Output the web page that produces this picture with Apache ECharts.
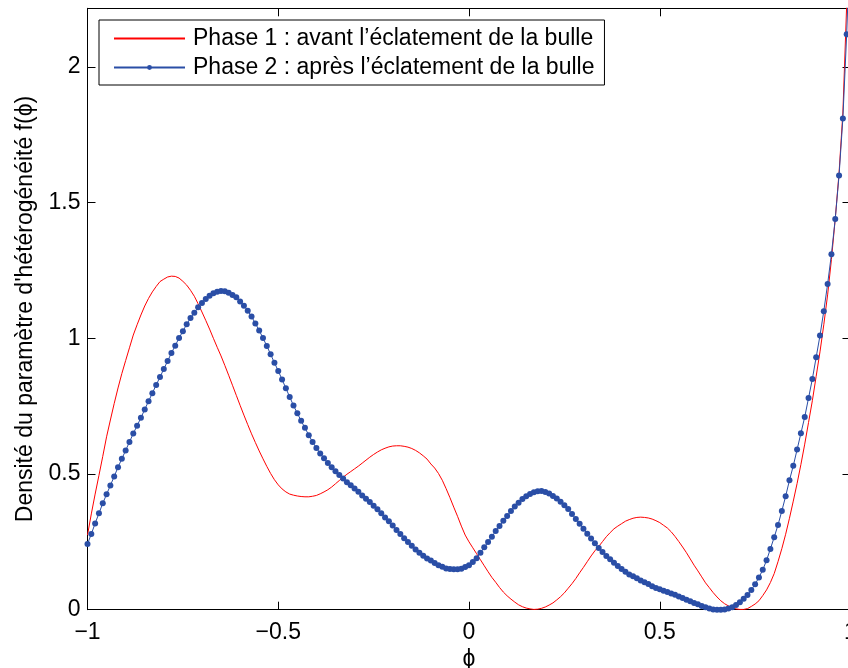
<!DOCTYPE html>
<html>
<head>
<meta charset="utf-8">
<script src="https://cdn.jsdelivr.net/npm/echarts@6/dist/echarts.min.js"></script>
<style>
  html, body { margin: 0; padding: 0; background: #ffffff; }
  #chart { width: 848px; height: 668px; }
</style>
</head>
<body>
<div id="chart"></div>
<script>
// Grid of the heterogeneity parameter phi: -1 to 1, step 0.01 (201 samples)
const PHI_MIN = -1;
const PHI_STEP = 0.01;

const seriesNames = [
  'Phase 1 : avant l\u2019éclatement de la bulle',
  'Phase 2 : après l\u2019éclatement de la bulle'
];
const xTickValues = [-1, -0.5, 0, 0.5, 1];
const yTickValues = [0, 0.5, 1, 1.5, 2];
const xTitle = '\u03D5';
const yTitle = 'Densité du paramètre d\'hétérogénéité f(\u03D5)';

// Phase 1 density, one row per 0.1 of phi
const phase1 = [
  0.275, 0.353, 0.426, 0.495, 0.565, 0.637, 0.699, 0.760, 0.817, 0.870,
  0.918, 0.965, 1.012, 1.050, 1.086, 1.119, 1.147, 1.171, 1.191, 1.209,
  1.218, 1.226, 1.229, 1.228, 1.222, 1.210, 1.196, 1.177, 1.155, 1.127,
  1.097, 1.066, 1.034, 1.000, 0.967, 0.935, 0.900, 0.864, 0.827, 0.790,
  0.753, 0.717, 0.682, 0.648, 0.616, 0.585, 0.556, 0.528, 0.502, 0.479,
  0.460, 0.445, 0.434, 0.426, 0.422, 0.419, 0.417, 0.416, 0.416, 0.418,
  0.421, 0.427, 0.434, 0.442, 0.452, 0.464, 0.476, 0.488, 0.499, 0.509,
  0.519, 0.529, 0.540, 0.551, 0.562, 0.572, 0.581, 0.589, 0.595, 0.600,
  0.603, 0.604, 0.604, 0.602, 0.599, 0.594, 0.587, 0.578, 0.567, 0.555,
  0.537, 0.522, 0.502, 0.477, 0.446, 0.413, 0.378, 0.344, 0.308, 0.275,
  0.250, 0.228, 0.206, 0.184, 0.162, 0.140, 0.119, 0.101, 0.082, 0.065,
  0.051, 0.039, 0.028, 0.018, 0.011, 0.006, 0.003, 0.001, 0.002, 0.005,
  0.010, 0.017, 0.025, 0.036, 0.048, 0.062, 0.079, 0.096, 0.115, 0.136,
  0.156, 0.177, 0.198, 0.217, 0.233, 0.251, 0.269, 0.284, 0.298, 0.308,
  0.317, 0.326, 0.332, 0.337, 0.340, 0.341, 0.340, 0.338, 0.334, 0.328,
  0.321, 0.311, 0.301, 0.287, 0.270, 0.251, 0.231, 0.210, 0.187, 0.164,
  0.143, 0.121, 0.099, 0.081, 0.063, 0.047, 0.033, 0.022, 0.014, 0.007,
  0.003, 0.001, 0.001, 0.004, 0.012, 0.021, 0.033, 0.052, 0.073, 0.100,
  0.133, 0.177, 0.225, 0.278, 0.337, 0.400, 0.465, 0.535, 0.610, 0.690,
  0.770, 0.860, 0.950, 1.050, 1.160, 1.290, 1.440, 1.610, 1.830, 2.230,
  2.600
];

// Phase 2 density, same grid
const phase2 = [
  0.242, 0.279, 0.318, 0.355, 0.392, 0.425, 0.458, 0.491, 0.525, 0.556,
  0.587, 0.618, 0.649, 0.678, 0.707, 0.738, 0.768, 0.798, 0.828, 0.857,
  0.887, 0.916, 0.946, 0.973, 1.001, 1.026, 1.052, 1.075, 1.094, 1.114,
  1.130, 1.145, 1.157, 1.166, 1.172, 1.174, 1.173, 1.168, 1.160, 1.151,
  1.136, 1.120, 1.102, 1.080, 1.055, 1.029, 1.001, 0.972, 0.941, 0.910,
  0.880, 0.848, 0.816, 0.784, 0.752, 0.724, 0.696, 0.670, 0.643, 0.618,
  0.596, 0.576, 0.558, 0.541, 0.525, 0.510, 0.496, 0.483, 0.470, 0.459,
  0.447, 0.435, 0.421, 0.409, 0.397, 0.383, 0.370, 0.355, 0.340, 0.326,
  0.310, 0.294, 0.279, 0.263, 0.249, 0.236, 0.222, 0.210, 0.199, 0.189,
  0.181, 0.172, 0.164, 0.158, 0.152, 0.150, 0.149, 0.149, 0.151, 0.157,
  0.164, 0.176, 0.190, 0.210, 0.230, 0.249, 0.269, 0.290, 0.308, 0.328,
  0.345, 0.364, 0.380, 0.394, 0.408, 0.418, 0.426, 0.433, 0.436, 0.437,
  0.434, 0.428, 0.419, 0.410, 0.398, 0.385, 0.371, 0.353, 0.334, 0.317,
  0.298, 0.280, 0.262, 0.245, 0.227, 0.213, 0.198, 0.186, 0.173, 0.161,
  0.150, 0.140, 0.130, 0.123, 0.116, 0.108, 0.101, 0.095, 0.086, 0.080,
  0.075, 0.070, 0.065, 0.060, 0.055, 0.049, 0.043, 0.037, 0.031, 0.025,
  0.020, 0.014, 0.009, 0.004, 0.001, 0.000, 0.000, 0.001, 0.004, 0.009,
  0.017, 0.027, 0.040, 0.054, 0.073, 0.094, 0.119, 0.147, 0.182, 0.224,
  0.267, 0.312, 0.364, 0.418, 0.477, 0.530, 0.590, 0.650, 0.710, 0.780,
  0.850, 0.930, 1.010, 1.100, 1.200, 1.310, 1.440, 1.600, 1.810, 2.120,
  2.500
];

const phi = phase1.map((_, i) => +(PHI_MIN + i * PHI_STEP).toFixed(2));
const pairs = values => values.map((v, i) => [phi[i], v]);

const FONT = "'Liberation Sans', Arial, Helvetica, sans-serif";
const INK = '#000000';
const RED = '#ff0000';
const BLUE = '#2a4ea6';
const fmt = v => String(+v.toFixed(2)).replace('-', '\u2212');

const axisLineStyle = { show: true, onZero: false, lineStyle: { color: INK, width: 1 } };
const tickStyle = { show: true, inside: true, length: 8, lineStyle: { color: INK, width: 1 } };

const chart = echarts.init(document.getElementById('chart'), null, { renderer: 'canvas' });

chart.setOption({
  animation: false,
  backgroundColor: '#ffffff',
  textStyle: { fontFamily: FONT },
  grid: {
    left: 87.5, top: 8.3, width: 763, height: 601.4,
    containLabel: false,
    outerBoundsMode: 'none'
  },
  legend: {
    orient: 'vertical',
    left: 99,
    top: 20,
    data: [
      // plain line, no marker
      { name: seriesNames[0], itemStyle: { color: 'rgba(0,0,0,0)', borderWidth: 0 } },
      { name: seriesNames[1] }
    ],
    backgroundColor: '#ffffff',
    borderColor: INK,
    borderWidth: 1,
    borderRadius: 0,
    padding: [6, 10, 5, 14],
    itemGap: 4,
    itemWidth: 71,
    itemHeight: 6,
    selectedMode: false,
    textStyle: { fontFamily: FONT, fontSize: 23, color: INK, lineHeight: 25, padding: [0, 0, 0, 3] }
  },
  xAxis: [
    {
      type: 'value',
      position: 'bottom',
      min: xTickValues[0],
      max: xTickValues[xTickValues.length - 1],
      interval: 0.5,
      axisLine: axisLineStyle,
      axisTick: tickStyle,
      splitLine: { show: false },
      axisLabel: { color: INK, fontSize: 23, fontFamily: FONT, margin: 11, formatter: fmt },
      name: xTitle,
      nameLocation: 'middle',
      nameGap: 35,
      nameTextStyle: { color: INK, fontSize: 23, fontFamily: FONT }
    },
    {
      type: 'value',
      position: 'top',
      min: xTickValues[0],
      max: xTickValues[xTickValues.length - 1],
      interval: 0.5,
      axisLine: axisLineStyle,
      axisTick: tickStyle,
      splitLine: { show: false },
      axisLabel: { show: false }
    }
  ],
  yAxis: [
    {
      type: 'value',
      position: 'left',
      min: yTickValues[0],
      max: 2.216,
      interval: 0.5,
      axisLine: axisLineStyle,
      axisTick: tickStyle,
      splitLine: { show: false },
      axisLabel: { color: INK, fontSize: 23, fontFamily: FONT, margin: 7, formatter: fmt, showMaxLabel: false },
      name: yTitle,
      nameLocation: 'middle',
      nameRotate: 90,
      nameGap: 49,
      nameTextStyle: { color: INK, fontSize: 23, fontFamily: FONT }
    },
    {
      type: 'value',
      position: 'right',
      min: yTickValues[0],
      max: 2.216,
      interval: 0.5,
      axisLine: axisLineStyle,
      axisTick: tickStyle,
      splitLine: { show: false },
      axisLabel: { show: false }
    }
  ],
  series: [
    {
      name: seriesNames[0],
      type: 'line',
      xAxisIndex: 0,
      yAxisIndex: 0,
      data: pairs(phase1),
      symbol: 'none',
      smooth: false,
      clip: true,
      lineStyle: { color: RED, width: 1 },
      itemStyle: { color: RED },
      emphasis: { disabled: true },
      z: 2
    },
    {
      name: seriesNames[1],
      type: 'line',
      xAxisIndex: 0,
      yAxisIndex: 0,
      data: pairs(phase2),
      symbol: 'circle',
      symbolSize: 6,
      showAllSymbol: true,
      clip: true,
      lineStyle: { color: BLUE, width: 1 },
      itemStyle: { color: BLUE },
      emphasis: { disabled: true },
      z: 3
    }
  ]
});
</script>
</body>
</html>
